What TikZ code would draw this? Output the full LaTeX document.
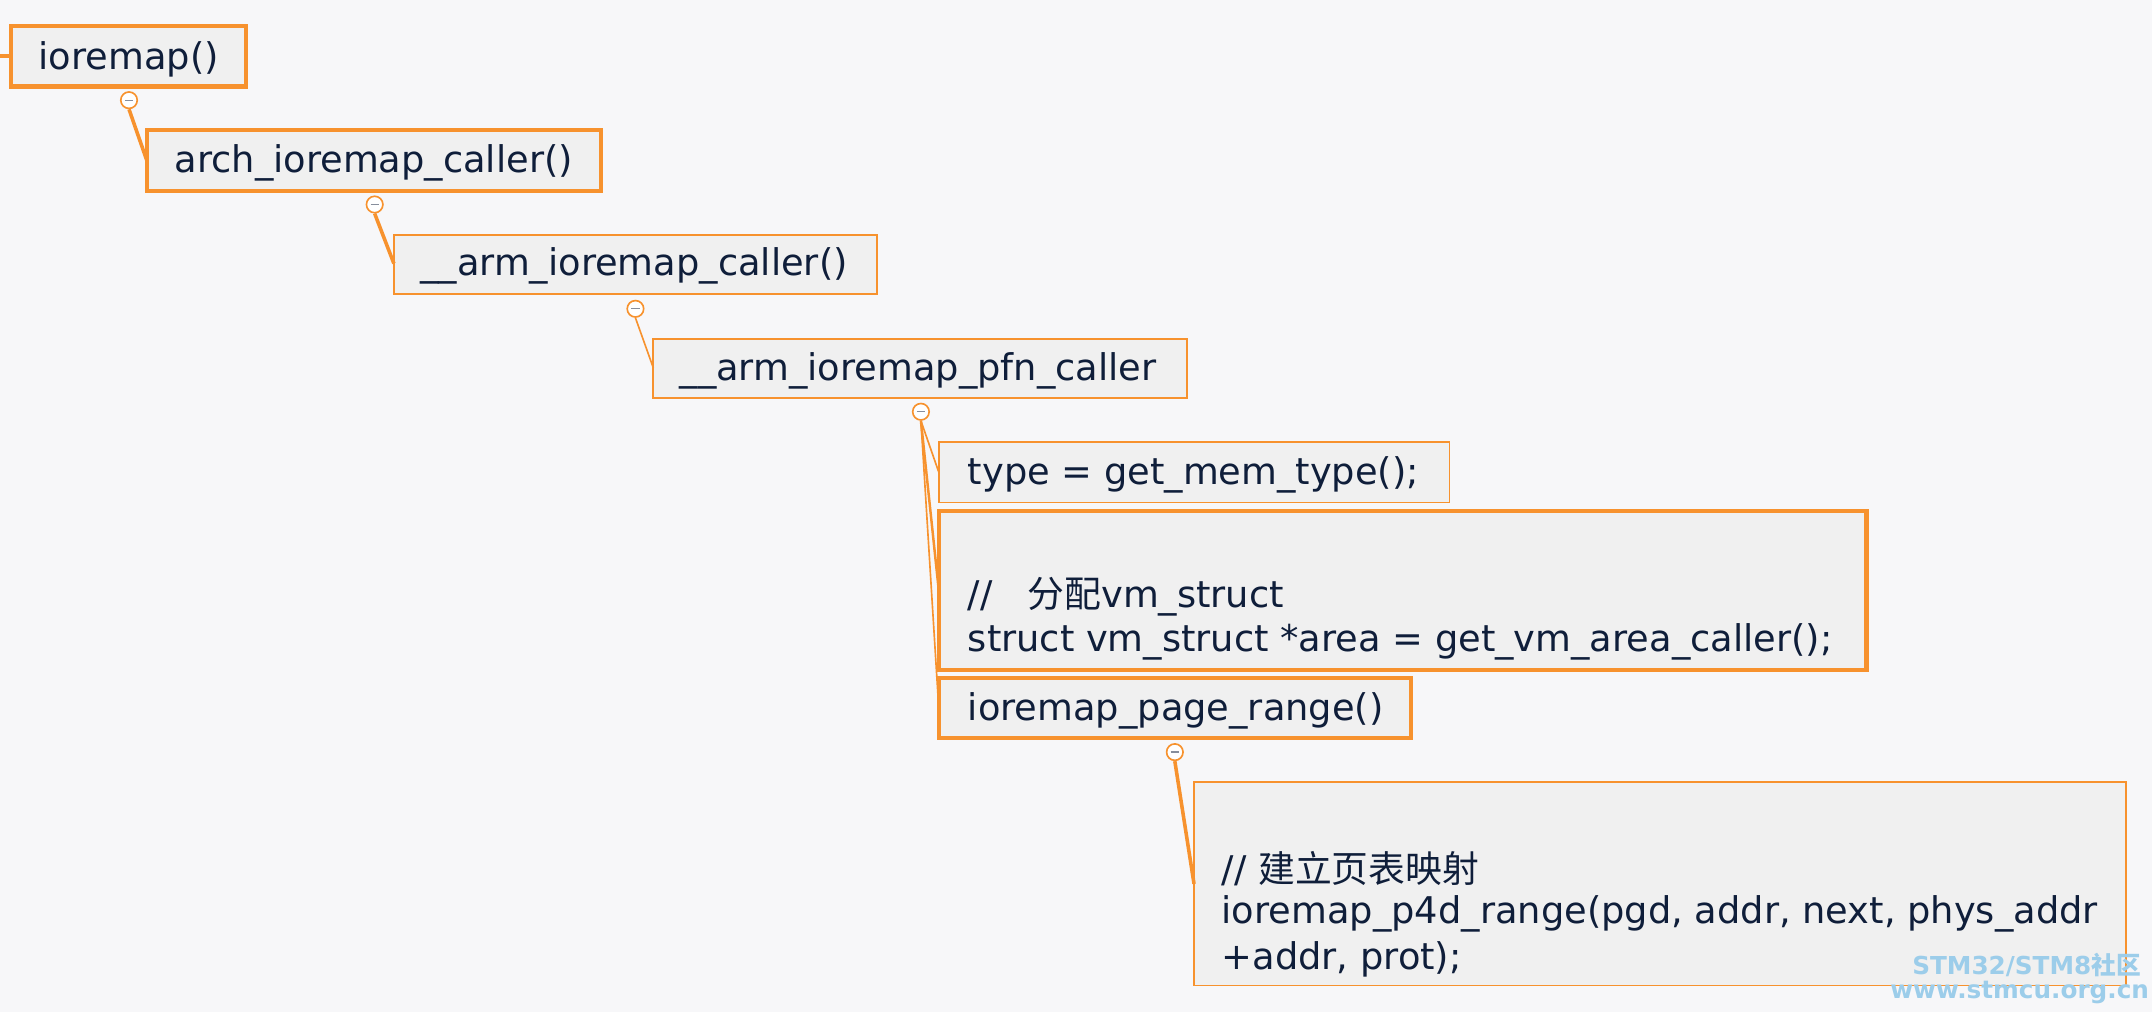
\documentclass[tikz,border=0pt]{standalone}
\usepackage{fontspec}
\setmainfont{DejaVu Sans}
\newfontfamily\cjk{Noto Sans CJK SC}
\definecolor{org}{HTML}{F7922E}
\definecolor{bgc}{HTML}{F7F7F9}
\definecolor{boxf}{HTML}{F0F0F0}
\definecolor{txt}{HTML}{0F1E3A}
\definecolor{wm}{HTML}{9CCDEA}
\begin{document}
\begin{tikzpicture}[x=1pt,y=-1pt,
  thk/.style={line width=3pt},
  lbl/.style={anchor=west,text=txt,font=\fontsize{26.8}{33}\selectfont,inner sep=0pt},
  tog/.style={circle,draw=org,fill=white,line width=1.2pt,minimum size=12pt,inner sep=0pt},
  cn/.style={draw=org,line width=1.2pt},
  cnk/.style={draw=org,line width=2.6pt}]
\fill[bgc] (0,0) rectangle (1568,737);
\useasboundingbox (0,0) rectangle (1568,737);
% boxes
\draw[draw=org,fill=boxf,thk] (8,19) rectangle (179,63);
\draw[draw=org,fill=boxf,thk] (107,95) rectangle (438,139);
\draw[draw=org,fill=boxf,line width=1.2pt] (287,171) rectangle (639,214);
\draw[draw=org,fill=boxf,line width=1.2pt] (476,247) rectangle (865,290);
\draw[draw=org,fill=boxf,line width=1.2pt] (684,322) rectangle (1056,366);
\draw[draw=org,fill=boxf,thk] (684,372) rectangle (1360,488);
\draw[draw=org,fill=boxf,thk] (684,494) rectangle (1028,538);
\draw[draw=org,fill=boxf,line width=1.2pt] (870,570) rectangle (1549,718);
% labels
\node[lbl] (n1) at (28,43) {ioremap()};
\node[lbl] (n2) at (127,119) {arch\_ioremap\_caller()};
\node[lbl] (n3) at (306,194) {\_\_arm\_ioremap\_caller()};
\node[lbl] (n4) at (495,270) {\_\_arm\_ioremap\_pfn\_caller};
\node[lbl] (n5) at (705,346) {type = get\_mem\_type();};
\node[lbl] (n6a) at (705,435) {//\ \ \ {\cjk 分配}vm\_struct};
\node[lbl] (n6b) at (705,468) {struct vm\_struct *area = get\_vm\_area\_caller();};
\node[lbl] (n7) at (705,518) {ioremap\_page\_range()};
\node[lbl] (n8a) at (890,633) {// {\cjk 建立页表映射}};
\node[lbl] (n8b) at (890,666) {ioremap\_p4d\_range(pgd, addr, next, phys\_addr};
\node[lbl] (n8c) at (890,699) {+addr, prot);};
% anchors
\coordinate (s0) at (0,41);
\coordinate (e1) at (8,41);
\coordinate (e2) at (107,117);
\coordinate (e3) at (287,192);
\coordinate (e4) at (476,268);
\coordinate (e5) at (684,344);
\coordinate (e6) at (684,430);
\coordinate (e7) at (684,516);
\coordinate (e8) at (870,644);
% connectors
\draw[cnk] (s0) -- (e1);
\node[tog] (t1) at (94,73) {};
\node[tog] (t2) at (273,149) {};
\node[tog] (t3) at (463,225) {};
\node[tog] (t4) at (671,300) {};
\node[tog] (t5) at (856,548) {};
\draw[cnk] (t1.south) -- (e2);
\draw[cnk] (t2.south) -- (e3);
\draw[cn] (t3.south) -- (e4);
\draw[cn] (t4.south) -- (e5);
\draw[cn,line width=1.8pt] (t4.south) -- (e6);
\draw[cn] (t4.south) -- (e7);
\draw[cnk] (t5.south) -- (e8);
\foreach \t in {t1,t2,t3,t4,t5}{\draw[color=txt!50,line width=1pt] ([xshift=-3pt]\t.center) -- ([xshift=3pt]\t.center);}
% watermark
\node[anchor=east,text=wm,font=\bfseries\fontsize{18}{20}\selectfont,inner sep=0pt] (w1) at (1560,703) {STM32/STM8{\cjk 社区}};
\node[anchor=east,text=wm,font=\bfseries\fontsize{18}{20}\selectfont,inner sep=0pt] (w2) at (1566,723) {www.stmcu.org.cn};
\end{tikzpicture}
\end{document}
